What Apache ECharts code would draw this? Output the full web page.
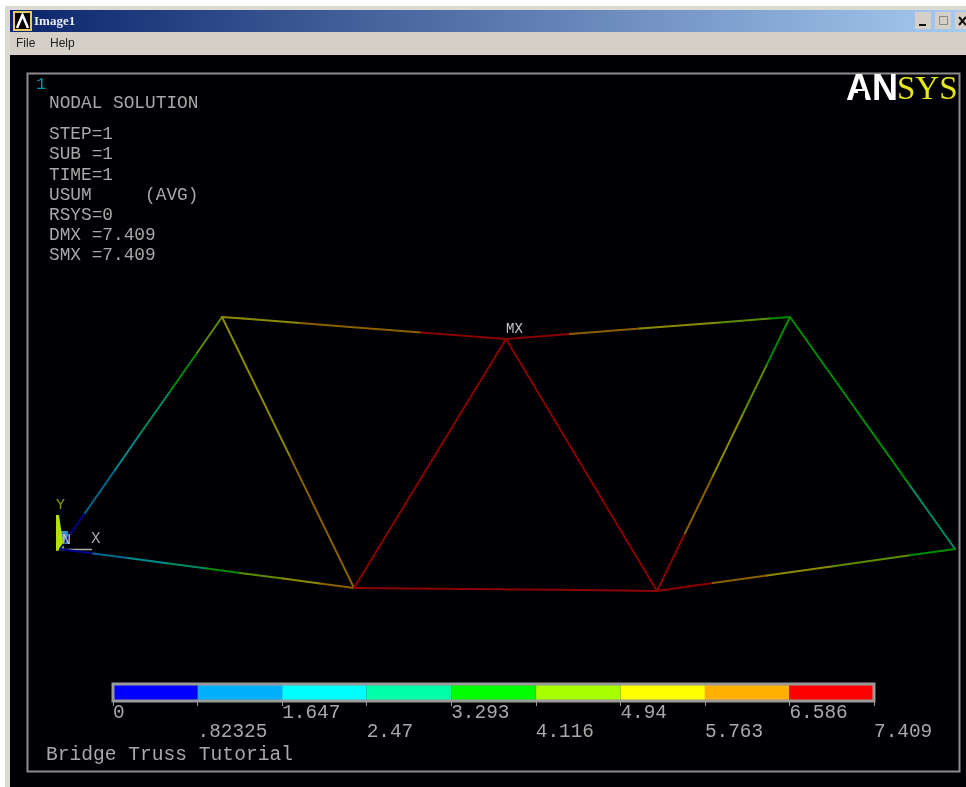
<!DOCTYPE html>
<html><head><meta charset="utf-8">
<script src="https://cdn.jsdelivr.net/npm/echarts@6/dist/echarts.min.js"></script>
<style>html,body{margin:0;padding:0;background:#fff}#c{width:966px;height:787px;filter:blur(0.7px)}</style>
</head><body><div id="c"></div>
<script>
// Contour scale
const tickLabels = ['0','.82325','1.647','2.47','3.293','4.116','4.94','5.763','6.586','7.409'];
const tickValues = tickLabels.map(Number);
const bandColors = ['#0000ff','#00b0ff','#00ffff','#00ffa8','#00ff00','#a8ff00','#ffff00','#ffb000','#ff0000'];
// The same nine bands as the truss shows them (dimmed line colour)
const lineColors = ['#00008c','#00688c','#008a8a','#008a5c','#008a00','#5c8a00','#8a8a00','#8a5f00','#8a0000'];
// Truss members: polyline [x, y, band of the piece ending at this point]
const memberLeftDiagonal = [[60,549,0],[85,513,0],[115,470,1],[140,434,2],[170,391.5,3],[197,353,4],[222,317,5]];
const memberTopLeft = [[222,317,5],[243,318.6,6],[300,323,6],[350,326.9,7],[421,332.4,7],[506,339,8]];
const memberTopRight = [[506,339,8],[570,334,8],[640,328.6,7],[720,322.4,6],[770,318.5,5],[790,317,4]];
const memberWebA = [[222,317,5],[290,456.6,6],[354,588,7]];
const memberWebB = [[354,588,8],[506,339,8]];
const memberWebC = [[506,339,8],[657,591,8]];
const memberWebD = [[657,591,8],[685,533.3,8],[713,475.6,7],[743,413.8,6],[767,364.4,5],[790,317,4]];
const memberRightDiagonal = [[790,317,4],[910,485.7,4],[955,549,3]];
const memberBottomLeft = [[60,549,0],[93,553.4,0],[128,558,1],[167,563.2,2],[207,568.5,3],[240,572.9,4],[283,578.6,5],[320,583.5,6],[354,588,7]];
const memberBottomMid = [[354,588,8],[582,590,8],[657,591,8]];
const memberBottomRight = [[657,591,8],[713,583.1,8],[767,575.5,7],[833,566.2,6],[910,555.3,5],[955,549,4]];
const members = [memberLeftDiagonal,memberTopLeft,memberTopRight,memberWebA,memberWebB,memberWebC,memberWebD,memberRightDiagonal,memberBottomLeft,memberBottomMid,memberBottomRight];
const segments = [];
members.forEach(m=>{for(let i=1;i<m.length;i++)segments.push([m[i-1][0],m[i-1][1],m[i][0],m[i][1],m[i][2]]);});
// Texts
const infoLabels = ['NODAL SOLUTION','STEP=1','SUB =1','TIME=1','USUM     (AVG)','RSYS=0','DMX =7.409','SMX =7.409'];
const infoRows = [103,134,154,175,195,215,235,255];
const footerText = 'Bridge Truss Tutorial';
const mono = '"Liberation Mono","DejaVu Sans Mono",monospace';
const gray = '#a8a8a8';

const chart = echarts.init(document.getElementById('c'));
const txt = (x,y,t,fs,fill,extra)=>({type:'text',z:20,x,y,style:Object.assign({text:t,fill,font:`${fs}px ${mono}`,textVerticalAlign:'middle',textAlign:'left'},extra||{})});
const rect = (x,y,w,h,fill,z)=>({type:'rect',z:z||1,shape:{x,y,width:w,height:h},style:{fill}});
const ln = (x1,y1,x2,y2,stroke,w,z)=>({type:'line',z:z||3,shape:{x1,y1,x2,y2},style:{stroke,lineWidth:w||1}});
const graphic = [
  rect(0,0,966,787,'#ffffff',0),
  rect(5,6,961,781,'#dcd9d0',0),
  {type:'rect',z:1,shape:{x:10,y:10,width:956,height:22},style:{fill:new echarts.graphic.LinearGradient(0,0,1,0,[{offset:0,color:'#0a246a'},{offset:1,color:'#a6caf0'}])}},
  rect(10,32,956,23,'#d4d0c8',1),
  rect(10,55,956,732,'#000004',1),
  // drawing frame
  {type:'rect',z:2,shape:{x:27.5,y:73.5,width:932,height:698},style:{fill:'none',stroke:'#8c8c8c',lineWidth:2}},
  // title icon
  rect(13,11,19,20,'#e8c860',3), rect(15,13,15,16,'#000',3),
  {type:'polyline',z:4,shape:{points:[[17,28],[22.5,15],[28,28]]},style:{fill:'none',stroke:'#fff',lineWidth:2.5}},
  {type:'text',z:4,x:34,y:22,style:{text:'Image1',fill:'#e8eef8',font:'bold 13px "Liberation Serif"',textVerticalAlign:'middle'}},
  {type:'text',z:4,x:16,y:44,style:{text:'File',fill:'#222',font:'12px "Liberation Sans"',textVerticalAlign:'middle'}},
  {type:'text',z:4,x:50,y:44,style:{text:'Help',fill:'#222',font:'12px "Liberation Sans"',textVerticalAlign:'middle'}},
  // window buttons
  rect(915,12,16,17,'#d4d0c8',3), rect(935,12,16,17,'#d4d0c8',3), rect(955,12,11,17,'#d4d0c8',3),
  ln(919,25,926,25,'#111',2,4), {type:'rect',z:4,shape:{x:939.5,y:16.5,width:8,height:8},style:{fill:'none',stroke:'#888',lineWidth:1}},
  ln(959,17,966,25,'#111',2,4), ln(966,17,959,25,'#111',2,4),
  // logo
  {type:'text',z:20,x:846,y:90.5,style:{text:'AN',fill:'#fff',font:'bold 36px "Liberation Sans"',textVerticalAlign:'middle'}},
  rect(858,91,7,8,'#000004',21),
  {type:'text',z:20,x:897,y:90.5,style:{text:'SYS',fill:'#e6e619',font:'33px "Liberation Serif"',textVerticalAlign:'middle'}},
  txt(36,84,'1',17,'#009a9a'),
  // triad
  {type:'polygon',z:5,shape:{points:[[56,515],[59,515],[64,549],[56,551]]},style:{fill:'#b4e000'}},
  rect(60,531,8,13,'#2f8fc8',4),
  ln(60,549.5,92,549.5,'#b0b0b0',1.5,4),
  txt(56,505,'Y',15,'#8a9a10'),
  txt(62,540,'N',15,'#c0c0c0'),
  txt(91,539,'X',16,'#a8a8a8'),
  txt(506,329,'MX',14,'#c8c8c8'),
  // colour bar frame
  {type:'rect',z:15,shape:{x:113,y:684,width:761,height:17},style:{fill:'none',stroke:'#9a9a9a',lineWidth:3}},
  txt(46,755,footerText,19.6,gray)
];
infoLabels.forEach((t,i)=>graphic.push(txt(49,infoRows[i],t,17.8,gray)));

const labelFmt = v=>tickLabels[tickValues.indexOf(v)];
const rowAxis = (vals,offset)=>({gridIndex:1,type:'value',min:0,max:7.409,position:'bottom',offset,z:12,
  axisLine:{show:false},splitLine:{show:false},
  axisTick:{show:offset===0,length:4,lineStyle:{color:'#9a9a9a'},customValues:tickValues},
  axisLabel:{show:true,customValues:vals,formatter:labelFmt,color:gray,align:'left',margin:1,fontFamily:mono,fontSize:19.4,hideOverlap:false,showMinLabel:true,showMaxLabel:true}});

chart.setOption({
  animation:false,
  backgroundColor:'#fff',
  graphic,
  grid:[{left:0,top:0,width:966,height:787,show:false},{left:113,top:685,width:761,height:17,show:false}],
  xAxis:[
    {gridIndex:0,type:'value',min:0,max:966,show:false},
    rowAxis(tickValues.filter((_,i)=>i%2===0),0),
    rowAxis(tickValues.filter((_,i)=>i%2===1),19)
  ],
  yAxis:[
    {gridIndex:0,type:'value',min:0,max:787,inverse:true,show:false},
    {gridIndex:1,type:'value',min:0,max:1,show:false}
  ],
  series:[
    {type:'custom',name:'truss',coordinateSystem:'cartesian2d',xAxisIndex:0,yAxisIndex:0,z:6,clip:false,
     data:segments,encode:{x:[0,2],y:[1,3]},
     renderItem:(p,api)=>{
       const a=api.coord([api.value(0),api.value(1)]),b=api.coord([api.value(2),api.value(3)]);
       return {type:'line',shape:{x1:a[0],y1:a[1],x2:b[0],y2:b[1]},style:{stroke:lineColors[api.value(4)],lineWidth:2,lineCap:'round'}};
     }},
    {type:'custom',name:'USUM',coordinateSystem:'cartesian2d',xAxisIndex:1,yAxisIndex:1,z:6,
     data:bandColors.map((c,i)=>[tickValues[i],tickValues[i+1],i]),encode:{x:[0,1]},
     renderItem:(p,api)=>{
       const a=api.coord([api.value(0),1]),b=api.coord([api.value(1),0]);
       return {type:'rect',shape:{x:a[0],y:a[1],width:b[0]-a[0],height:b[1]-a[1]},style:{fill:bandColors[api.value(2)]}};
     }}
  ]
});
</script></body></html>
